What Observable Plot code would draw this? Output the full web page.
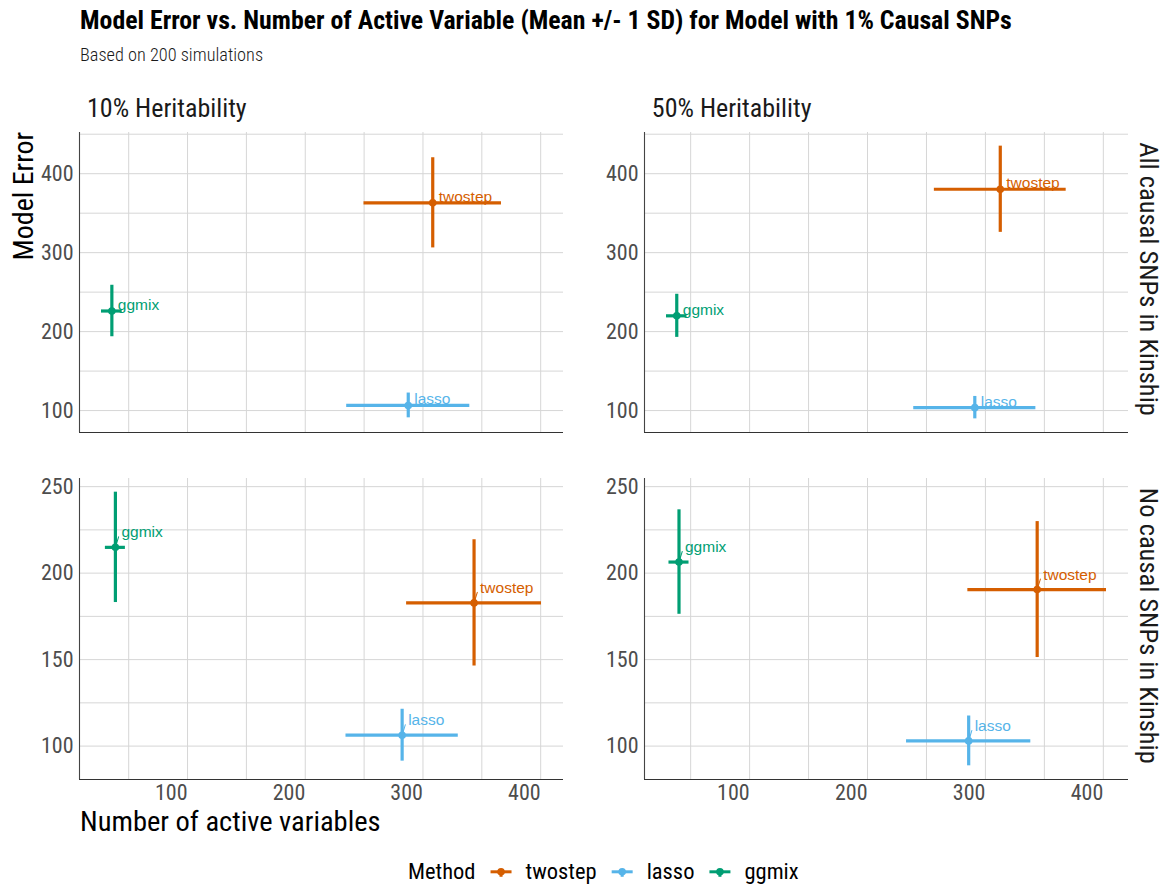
<!DOCTYPE html>
<html>
<head>
<meta charset="utf-8">
<script src="https://cdn.jsdelivr.net/npm/d3@7"></script>
<script src="https://cdn.jsdelivr.net/npm/@observablehq/plot@0.6"></script>
<style>
  html, body { margin: 0; padding: 0; background: #fff; }
  #wrap { position: relative; width: 1167px; height: 886px; overflow: hidden; background: #fff; }
  .panel { position: absolute; }
  .panel svg { overflow: visible; }
  #overlay { position: absolute; left: 0; top: 0; }
</style>
</head>
<body>
<div id="wrap"></div>
<script>
// ---------------- data ----------------
const methods = ["twostep", "lasso", "ggmix"];
const methodColors = ["#D55E00", "#56B4E9", "#009E73"];
const heritabilityLevels = ["10% Heritability", "50% Heritability"];
const kinshipLevels = ["All causal SNPs in Kinship", "No causal SNPs in Kinship"];

const heritability = ["10% Heritability","10% Heritability","10% Heritability",
                      "50% Heritability","50% Heritability","50% Heritability",
                      "10% Heritability","10% Heritability","10% Heritability",
                      "50% Heritability","50% Heritability","50% Heritability"];
const kinship = ["All causal SNPs in Kinship","All causal SNPs in Kinship","All causal SNPs in Kinship",
                 "All causal SNPs in Kinship","All causal SNPs in Kinship","All causal SNPs in Kinship",
                 "No causal SNPs in Kinship","No causal SNPs in Kinship","No causal SNPs in Kinship",
                 "No causal SNPs in Kinship","No causal SNPs in Kinship","No causal SNPs in Kinship"];
const method = ["twostep","lasso","ggmix","twostep","lasso","ggmix",
                "twostep","lasso","ggmix","twostep","lasso","ggmix"];
const activeMean = [308.3, 287.5, 35.7, 312.6, 291.0, 38.2, 343.4, 282.3, 38.7, 343.9, 285.8, 40.1];
const activeSD   = [58.4, 52.3, 8.8, 55.9, 51.8, 8.7, 57.3, 47.7, 8.5, 58.8, 52.7, 8.5];
const errorMean  = [363.1, 106.5, 226.1, 380.3, 103.7, 220.0, 182.8, 106.3, 214.9, 190.5, 103.0, 206.4];
const errorSD    = [57.1, 15.7, 32.6, 54.6, 14.2, 27.3, 36.5, 15.0, 31.9, 39.3, 14.4, 30.2];

const xBreaks = [100, 200, 300, 400];
const xGridBreaks = [0, 50, 100, 150, 200, 250, 300, 350, 400, 450];
const yBreaksRow = [[100, 200, 300, 400], [100, 150, 200, 250]];
const yGridRow = [[50, 100, 150, 200, 250, 300, 350, 400, 450], [75, 100, 125, 150, 175, 200, 225, 250]];

const titleText = "Model Error vs. Number of Active Variable (Mean +/- 1 SD) for Model with 1% Causal SNPs";
const subtitleText = "Based on 200 simulations";
const xTitle = "Number of active variables";
const yTitle = "Model Error";
const legendTitle = "Method";

// ---------------- build ----------------
const rows = method.map((m, i) => ({
  heritability: heritability[i], kinship: kinship[i], method: m,
  x: activeMean[i], xlo: activeMean[i] - activeSD[i], xhi: activeMean[i] + activeSD[i],
  y: errorMean[i], ylo: errorMean[i] - errorSD[i], yhi: errorMean[i] + errorSD[i]
}));

function padded(lo, hi) { const r = hi - lo; return [lo - 0.05 * r, hi + 0.05 * r]; }
const xDomains = heritabilityLevels.map(h => {
  const s = rows.filter(d => d.heritability === h);
  return padded(d3.min(s, d => d.xlo), d3.max(s, d => d.xhi));
});
const yDomains = kinshipLevels.map(k => {
  const s = rows.filter(d => d.kinship === k);
  return padded(d3.min(s, d => d.ylo), d3.max(s, d => d.yhi));
});

const FONT = '"Roboto Condensed", "Liberation Sans Narrow", "Arial Narrow", "DejaVu Sans Condensed", sans-serif';
const LABEL_FONT = '"Liberation Sans", Arial, Helvetica, sans-serif';
const wrap = document.getElementById("wrap");

// layout of panels (pixel frame)
const panelW = 484;
const colLeft = [79, 643.8];
const rowTop = [132, 478.3];
const rowH = [300, 301];
const mL = 60;
const TICK_FS = 22;

const segmentShape = {
  draw(context, l) { context.moveTo(0, -3); context.lineTo(0, -l); }
};

function buildPanel(ci, ri, withSegments) {
  const h = heritabilityLevels[ci], k = kinshipLevels[ri];
  const data = rows.filter(d => d.heritability === h && d.kinship === k);
  const xd = xDomains[ci], yd = yDomains[ri];
  const bottom = ri === 1;
  const mB = bottom ? 32 : 0;
  const marks = [
    Plot.ruleX(xGridBreaks.filter(v => v >= xd[0] && v <= xd[1]), {stroke: "#d6d6d6", strokeWidth: 1}),
    Plot.ruleY(yGridRow[ri].filter(v => v >= yd[0] && v <= yd[1]), {stroke: "#d6d6d6", strokeWidth: 1}),
    Plot.ruleX([xd[0]], {stroke: "#444", strokeWidth: 1.1}),
    Plot.ruleY([yd[0]], {stroke: "#333", strokeWidth: 1.1}),
    Plot.axisY(yBreaksRow[ri], {tickSize: 0, tickPadding: 6, fontSize: TICK_FS, fill: "#4d4d4d", label: null, fontFamily: FONT}),
    Plot.ruleX(data, {x: "x", y1: "ylo", y2: "yhi", stroke: "method", strokeWidth: 3.2}),
    Plot.ruleY(data, {y: "y", x1: "xlo", x2: "xhi", stroke: "method", strokeWidth: 3.2}),
    Plot.dot(data, {x: "x", y: "y", fill: "method", r: 3.8})
  ];
  if (bottom && withSegments) {
    marks.push(Plot.vector(data, {x: "x", y: "y", length: 11, rotate: 17, anchor: "start",
      shape: segmentShape, stroke: "method", strokeWidth: 1}));
  }
  marks.push(Plot.text(data, {x: "x", y: "y", text: "method", fill: "method", textAnchor: "start",
      dx: 6, dy: bottom ? -15 : -6, fontSize: 15.5, fontFamily: LABEL_FONT}));
  if (bottom) {
    marks.push(Plot.axisX(xBreaks, {tickSize: 0, tickPadding: 5, fontSize: TICK_FS, fill: "#4d4d4d",
      textAnchor: "end", label: null, fontFamily: FONT}));
  }
  return Plot.plot({
    width: mL + panelW,
    height: rowH[ri] + mB,
    marginLeft: mL, marginRight: 0, marginTop: 0, marginBottom: mB,
    x: {domain: xd, axis: null},
    y: {domain: yd, axis: null},
    color: {domain: methods, range: methodColors, legend: false},
    style: {fontFamily: FONT, background: "transparent", overflow: "visible"},
    marks
  });
}

heritabilityLevels.forEach((h, ci) => {
  kinshipLevels.forEach((k, ri) => {
    let chart;
    try { chart = buildPanel(ci, ri, true); } catch (e) { chart = buildPanel(ci, ri, false); }
    const div = document.createElement("div");
    div.className = "panel";
    div.style.left = (colLeft[ci] - mL) + "px";
    div.style.top = rowTop[ri] + "px";
    div.appendChild(chart);
    wrap.appendChild(div);
  });
});

// ---------------- text overlay ----------------
const svg = d3.select(wrap).append("svg").attr("id", "overlay")
  .attr("width", 1167).attr("height", 886)
  .style("font-family", FONT).style("pointer-events", "none");

svg.append("text").attr("x", 80).attr("y", 28.5).attr("font-size", 25.8).attr("font-weight", 700)
  .attr("fill", "#000").text(titleText);
svg.append("text").attr("x", 80).attr("y", 61).attr("font-size", 18.3).attr("font-weight", 300)
  .attr("fill", "#1a1a1a").text(subtitleText);
heritabilityLevels.forEach((h, ci) => {
  svg.append("text").attr("x", colLeft[ci] + 8).attr("y", 117.3).attr("font-size", 26)
    .attr("fill", "#1a1a1a").text(h);
});
kinshipLevels.forEach((k, ri) => {
  svg.append("text").attr("transform", `translate(1140,${rowTop[ri] + rowH[ri] / 2 - 3}) rotate(90)`)
    .attr("text-anchor", "middle").attr("font-size", 26.5).attr("fill", "#1a1a1a").text(k);
});
svg.append("text").attr("transform", "translate(33,132) rotate(-90)").attr("text-anchor", "end")
  .attr("font-size", 28).attr("fill", "#000").text(yTitle);
svg.append("text").attr("x", 80).attr("y", 831).attr("font-size", 28.5).attr("fill", "#000").text(xTitle);

// legend
const lg = svg.append("g");
let lx = 408;
const ly = 879.3;
const LFS = 22.5;
const t0 = lg.append("text").attr("x", lx).attr("y", ly).attr("font-size", LFS).attr("fill", "#000").text(legendTitle);
lx += t0.node().getComputedTextLength() + 15;
methods.forEach((m, i) => {
  const c = methodColors[i];
  const cy = ly - 7.5;
  lg.append("line").attr("x1", lx).attr("x2", lx + 21).attr("y1", cy).attr("y2", cy)
    .attr("stroke", c).attr("stroke-width", 3);
  lg.append("line").attr("x1", lx + 10.5).attr("x2", lx + 10.5).attr("y1", cy - 2).attr("y2", cy + 5)
    .attr("stroke", c).attr("stroke-width", 3);
  lg.append("circle").attr("cx", lx + 10.5).attr("cy", cy).attr("r", 3.8).attr("fill", c);
  lx += 21 + 14;
  const t = lg.append("text").attr("x", lx).attr("y", ly).attr("font-size", LFS).attr("fill", "#000").text(m);
  lx += t.node().getComputedTextLength() + 15;
});
</script>
</body>
</html>
